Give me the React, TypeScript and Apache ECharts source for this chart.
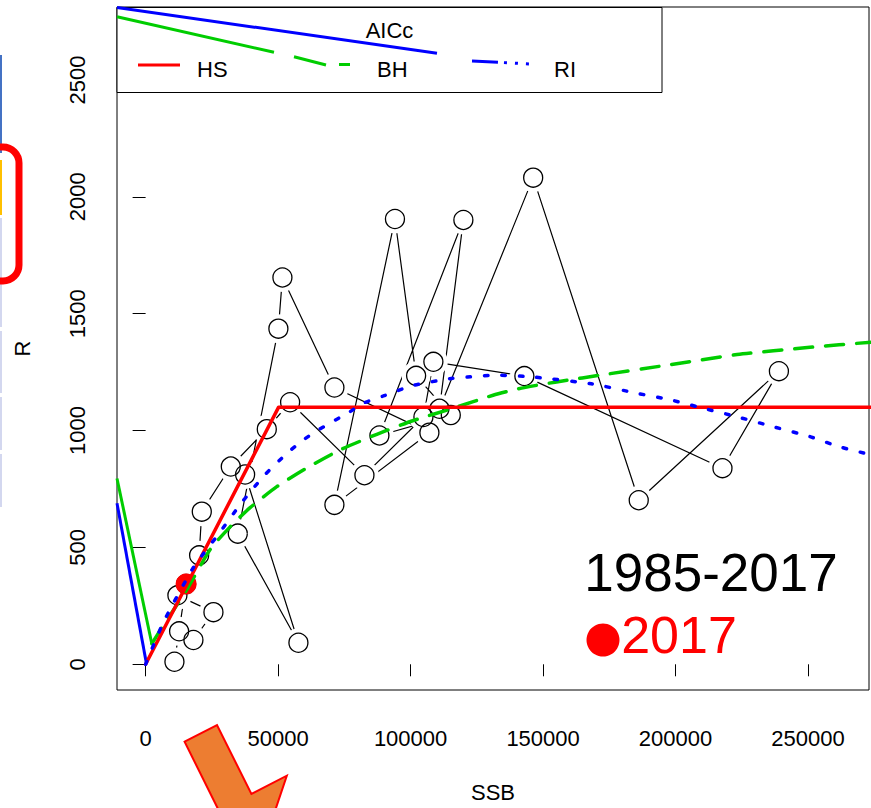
import React, { useEffect, useRef } from "react";
import * as echarts from "echarts";

// Spawning stock biomass (t) and recruitment, 1985-2017, in year order
const years = [
  1985, 1986, 1987, 1988, 1989, 1990, 1991, 1992, 1993, 1994, 1995,
  1996, 1997, 1998, 1999, 2000, 2001, 2002, 2003, 2004, 2005, 2006,
  2007, 2008, 2009, 2010, 2011, 2012, 2013, 2014, 2015, 2016, 2017,
];
const ssb = [
  37550, 57670, 34780, 50110, 51630, 71250, 107100, 71250, 94100, 102080, 115170,
  88230, 119920, 110900, 146260, 186100, 239000, 217700, 142940, 108600, 104840, 82580,
  54530, 45730, 32140, 21200, 20190, 12000, 25600, 18040, 12640, 10880, 15280,
];
const recruits = [
  812, 92, 559, 1436, 1655, 1184, 991, 682, 1905, 1234, 1066,
  979, 1901, 1093, 2082, 702, 1254, 839, 1233, 1294, 1058, 809,
  1121, 1006, 846, 653, 466, 295, 223, 104, 141, 11, 343,
];

// Fitted stock-recruitment curves
const hsSsb = [0, 50200, 280000];
const hsR = [0, 1100, 1100];

const bhLeadSsb = [-10800, 2340];
const bhLeadR = [795, 88];
const bhSsb = [
  2340, 6110, 15550, 24340, 31890, 39430, 49510, 60830, 73400, 87250, 101060,
  116150, 131130, 140750, 154490, 175090, 195740, 223210, 250680, 273770,
];
const bhR = [
  88, 156, 320, 491, 588, 670, 760, 840, 917, 984, 1043,
  1096, 1151, 1179, 1207, 1243, 1278, 1325, 1356, 1378,
];

const riLeadSsb = [-10800, 200];
const riLeadR = [689, 10];
const riSsb = [
  0, 6720, 18040, 27470, 35660, 44450, 53280, 59550, 64600, 77170, 81660, 89730,
  100910, 114910, 121510, 132530, 146230, 168230, 184720, 198490, 210830, 223210,
  236940, 250680, 261700, 273770,
];
const riR = [
  0, 180, 414, 556, 683, 804, 902, 960, 999, 1081, 1115, 1148,
  1193, 1222, 1229, 1237, 1229, 1200, 1161, 1130, 1094, 1059,
  1016, 974, 931, 896,
];

// Axis ticks
const xTicks = [0, 50000, 100000, 150000, 200000, 250000];
const yTicks = [0, 500, 1000, 1500, 2000, 2500];

// Legend entries
const legendTitle = "AICc";
const legendNames = ["HS", "BH", "RI"];

const FONT = "'Liberation Sans', Arial, Helvetica, sans-serif";
const RED = "#FF0000";
const GREEN = "#00CD00";
const BLUE = "#0000FF";

const pairs = (xs: number[], ys: number[]) => xs.map((x, i) => [x, ys[i]]);

export default function App() {
  const ref = useRef<HTMLDivElement>(null);

  useEffect(() => {
    if (!ref.current) return;
    const chart = echarts.init(ref.current, null, { renderer: "svg" });
    const obs = pairs(ssb, recruits);
    const last = obs.length - 1;

    const option: any = {
      animation: false,
      backgroundColor: "#ffffff",
      grid: {
        left: 117,
        top: 7,
        right: 2,
        bottom: 113,
        show: true,
        borderColor: "#000",
        borderWidth: 1,
        backgroundColor: "transparent",
      },
      xAxis: {
        type: "value",
        min: -10800,
        max: 273000,
        name: "SSB",
        nameLocation: "middle",
        nameGap: 91,
        nameTextStyle: { fontSize: 22, color: "#000", fontFamily: FONT },
        axisLine: { show: false },
        axisTick: {
          show: true,
          inside: false,
          length: 12,
          customValues: xTicks,
          lineStyle: { color: "#000", width: 1 },
        },
        axisLabel: {
          customValues: xTicks,
          formatter: (v: number) => String(v),
          fontSize: 22,
          color: "#000",
          fontFamily: FONT,
          margin: 37,
        },
        splitLine: { show: false },
      },
      yAxis: {
        type: "value",
        min: -110,
        max: 2812,
        name: "R",
        nameLocation: "middle",
        nameGap: 84,
        nameRotate: 90,
        nameTextStyle: { fontSize: 22, color: "#000", fontFamily: FONT },
        axisLine: { show: false },
        axisTick: {
          show: true,
          inside: false,
          length: 13,
          customValues: yTicks,
          lineStyle: { color: "#000", width: 1 },
        },
        axisLabel: {
          customValues: yTicks,
          formatter: (v: number) => String(v),
          rotate: 90,
          fontSize: 22,
          color: "#000",
          fontFamily: FONT,
          margin: 29,
        },
        splitLine: { show: false },
      },
      series: [
        {
          name: "path",
          type: "line",
          data: obs,
          symbol: "none",
          lineStyle: { color: "#000", width: 1.2 },
          z: 2,
          silent: true,
        },
        {
          // white halo so the year-to-year path stops short of each point
          name: "gap",
          type: "scatter",
          data: obs,
          symbol: "circle",
          symbolSize: 29,
          itemStyle: { color: "#ffffff", opacity: 1 },
          z: 3,
          silent: true,
        },
        {
          name: "years",
          type: "scatter",
          data: obs,
          symbol: "circle",
          symbolSize: 19,
          itemStyle: {
            color: "transparent",
            borderColor: "#000",
            borderWidth: 1.3,
            opacity: 1,
          },
          z: 4,
          silent: true,
        },
        {
          name: String(years[last]),
          type: "scatter",
          data: [obs[last]],
          symbol: "circle",
          symbolSize: 21,
          itemStyle: { color: RED, opacity: 1 },
          z: 5,
          silent: true,
        },
        {
          name: "BH lead",
          type: "line",
          data: pairs(bhLeadSsb, bhLeadR),
          symbol: "none",
          lineStyle: { color: GREEN, width: 3 },
          z: 6,
        },
        {
          name: "BH",
          type: "line",
          data: pairs(bhSsb, bhR),
          symbol: "none",
          smooth: 0.2,
          lineStyle: { color: GREEN, width: 3.5, type: [18, 13], cap: "round" },
          z: 6,
        },
        {
          name: "RI lead",
          type: "line",
          data: pairs(riLeadSsb, riLeadR),
          symbol: "none",
          lineStyle: { color: BLUE, width: 3 },
          z: 6,
        },
        {
          name: "RI",
          type: "line",
          data: pairs(riSsb, riR),
          symbol: "none",
          smooth: 0.2,
          lineStyle: { color: BLUE, width: 3.5, type: [3.5, 14], cap: "round" },
          z: 7,
        },
        {
          name: "HS",
          type: "line",
          data: pairs(hsSsb, hsR),
          symbol: "none",
          lineStyle: { color: RED, width: 3.5, join: "round", cap: "round" },
          z: 6,
        },
      ],
      graphic: [
        // legend box
        {
          type: "rect",
          z: 100,
          shape: { x: 117, y: 7.5, width: 545, height: 85 },
          style: { fill: "#ffffff", stroke: "#000", lineWidth: 1 },
        },
        {
          type: "line",
          z: 101,
          shape: { x1: 117, y1: 7.5, x2: 437, y2: 53.3 },
          style: { stroke: BLUE, lineWidth: 3 },
        },
        {
          type: "line",
          z: 101,
          shape: { x1: 472, y1: 61, x2: 531, y2: 64 },
          style: { stroke: BLUE, lineWidth: 3, lineDash: [26, 6, 3, 8, 3, 8, 3, 10] },
        },
        {
          type: "line",
          z: 101,
          shape: { x1: 117, y1: 16.7, x2: 274, y2: 52.3 },
          style: { stroke: GREEN, lineWidth: 3 },
        },
        {
          type: "line",
          z: 101,
          shape: { x1: 294, y1: 56.7, x2: 326, y2: 65 },
          style: { stroke: GREEN, lineWidth: 3 },
        },
        {
          type: "line",
          z: 101,
          shape: { x1: 339, y1: 64.5, x2: 350, y2: 64.5 },
          style: { stroke: GREEN, lineWidth: 3 },
        },
        {
          type: "line",
          z: 101,
          shape: { x1: 138, y1: 65, x2: 180, y2: 65 },
          style: { stroke: RED, lineWidth: 3 },
        },
        {
          type: "text",
          z: 102,
          x: 389.5,
          y: 30.5,
          style: {
            text: legendTitle,
            fill: "#000",
            font: `22px ${FONT}`,
            textAlign: "center",
            textVerticalAlign: "middle",
          },
        },
        ...legendNames.map((name, i) => ({
          type: "text",
          z: 102,
          x: [197, 377, 554][i],
          y: 69,
          style: {
            text: name,
            fill: "#000",
            font: `22px ${FONT}`,
            textAlign: "left",
            textVerticalAlign: "middle",
          },
        })),
        // period annotation
        {
          type: "text",
          z: 102,
          x: 711,
          y: 572,
          style: {
            text: `${years[0]}-${years[last]}`,
            fill: "#000",
            font: `53px ${FONT}`,
            textAlign: "center",
            textVerticalAlign: "middle",
          },
        },
        {
          type: "circle",
          z: 102,
          shape: { cx: 603, cy: 640, r: 16.5 },
          style: { fill: RED },
        },
        {
          type: "text",
          z: 102,
          x: 679,
          y: 635,
          style: {
            text: String(years[last]),
            fill: RED,
            font: `52px ${FONT}`,
            textAlign: "center",
            textVerticalAlign: "middle",
          },
        },
        // slide decorations around the chart
        {
          type: "line",
          z: 100,
          shape: { x1: 1, y1: 55, x2: 1, y2: 153 },
          style: { stroke: "#4472C4", lineWidth: 2 },
        },
        {
          type: "line",
          z: 100,
          shape: { x1: 1, y1: 160, x2: 1, y2: 215 },
          style: { stroke: "#FFC000", lineWidth: 2 },
        },
        ...[
          [218, 327],
          [331, 393],
          [397, 450],
          [454, 507],
        ].map(([a, b]) => ({
          type: "line",
          z: 100,
          shape: { x1: 1, y1: a, x2: 1, y2: b },
          style: { stroke: "#D3D7EF", lineWidth: 2 },
        })),
        {
          type: "rect",
          z: 103,
          shape: { x: -40, y: 147, width: 59, height: 134, r: 16 },
          style: { fill: "none", stroke: RED, lineWidth: 7 },
        },
        {
          type: "polygon",
          z: 103,
          shape: {
            points: [
              [184.6, 741.7],
              [217, 725],
              [251.4, 794],
              [286.8, 775.7],
              [260.7, 853.6],
              [183.1, 828],
              [218.7, 810.3],
            ],
          },
          style: { fill: "#ED7D31", stroke: RED, lineWidth: 2 },
        },
      ],
    };

    chart.setOption(option);
    return () => chart.dispose();
  }, []);

  return (
    <div
      ref={ref}
      style={{ position: "absolute", left: 0, top: 0, width: 871, height: 808 }}
    />
  );
}
